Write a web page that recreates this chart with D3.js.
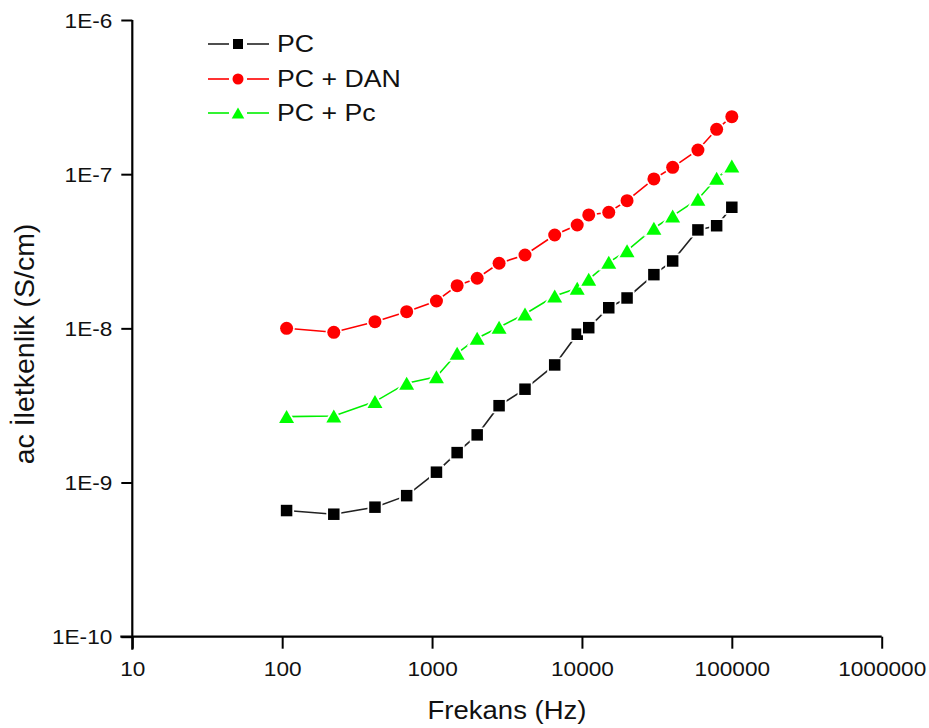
<!DOCTYPE html>
<html>
<head>
<meta charset="utf-8">
<script src="https://cdn.jsdelivr.net/npm/d3@7"></script>
<style>
  html, body { margin: 0; padding: 0; background: #fff; }
  svg { display: block; font-family: "Liberation Sans", Arial, sans-serif; }
</style>
</head>
<body>
<svg id="chart" width="929" height="728"></svg>
<script>
// ---- data ----
const frequencies = [107, 221, 416, 677, 1070, 1470, 2000, 2800, 4170, 6580, 9300, 11100, 15100, 20000, 30200, 40300, 59400, 79200, 100000];
const pcValues    = [6.58e-10, 6.23e-10, 6.92e-10, 8.22e-10, 1.167e-9, 1.563e-9, 2.037e-9, 3.15e-9, 4.03e-9, 5.79e-9, 9.16e-9, 1.01e-8, 1.36e-8, 1.574e-8, 2.23e-8, 2.735e-8, 4.35e-8, 4.63e-8, 6.10e-8];
const pcDanValues = [1.001e-8, 9.43e-9, 1.105e-8, 1.283e-8, 1.505e-8, 1.891e-8, 2.113e-8, 2.643e-8, 2.99e-8, 4.03e-8, 4.68e-8, 5.44e-8, 5.66e-8, 6.73e-8, 9.31e-8, 1.108e-7, 1.435e-7, 1.955e-7, 2.36e-7];
const pcPcValues  = [2.676e-9, 2.70e-9, 3.35e-9, 4.41e-9, 4.86e-9, 6.89e-9, 8.63e-9, 1.016e-8, 1.24e-8, 1.622e-8, 1.82e-8, 2.08e-8, 2.68e-8, 3.19e-8, 4.46e-8, 5.36e-8, 6.88e-8, 9.40e-8, 1.13e-7];
const seriesNames = ["PC", "PC + DAN", "PC + Pc"];
const xTickValues = [10, 100, 1000, 10000, 100000, 1000000];
const yTickValues = [1e-10, 1e-9, 1e-8, 1e-7, 1e-6];
const yTickLabels = ["1E-10", "1E-9", "1E-8", "1E-7", "1E-6"];
const xTitle = "Frekans (Hz)";
const yTitle = "ac İletkenlik (S/cm)";

// ---- layout ----
const SX = 1.16; // horizontal text stretch seen in the reference
const svg = d3.select("#chart");
const x = d3.scaleLog().domain([10, 1e6]).range([132.3, 881.7]);
const y = d3.scaleLog().domain([1e-10, 1e-6]).range([636.7, 20]);

const series = [
  { name: seriesNames[0], values: pcValues,    color: "#000000", line: "#222222", shape: "square" },
  { name: seriesNames[1], values: pcDanValues, color: "#ff0000", line: "#ff0000", shape: "circle" },
  { name: seriesNames[2], values: pcPcValues,  color: "#00ff00", line: "#00f000", shape: "triangle" }
];

function markerPath(shape, s) {
  if (shape === "square") return d3.symbol(d3.symbolSquare, s * s)();
  if (shape === "circle") return d3.symbol(d3.symbolCircle, Math.PI * (s / 2) * (s / 2))();
  // triangle, bbox-centred
  const w = s * 1.15, h = s;
  return `M0,${-h / 2}L${w / 2},${h / 2}L${-w / 2},${h / 2}Z`;
}
const markerSize = { square: 11.5, circle: 13, triangle: 13 };
const legendMarkerSize = { square: 10, circle: 11, triangle: 11 };

// ---- axes ----
const xAxis = d3.axisBottom(x).tickValues(xTickValues).tickFormat(d3.format("d")).tickSize(12).tickPadding(0);
const gx = svg.append("g").attr("transform", `translate(0,${y(1e-10)})`).call(xAxis);
gx.select(".domain").attr("stroke", "#000").attr("stroke-width", 2.2).attr("d", `M${x(10) - 12},0H${x(1e6)}`);
gx.selectAll(".tick line").attr("stroke", "#000").attr("stroke-width", 2);
gx.selectAll(".tick text")
  .attr("y", 25).attr("dy", "0.71em")
  .attr("transform", `scale(${SX},1)`)
  .attr("font-size", 19.5).attr("fill", "#111")
  .attr("font-family", "Liberation Sans, Arial, sans-serif");

const yAxis = d3.axisLeft(y).tickValues(yTickValues).tickFormat((d, i) => yTickLabels[i]).tickSize(11).tickPadding(0);
const gy = svg.append("g").attr("transform", `translate(${x(10)},0)`).call(yAxis);
gy.select(".domain").attr("stroke", "#000").attr("stroke-width", 2.2).attr("d", `M0,${y(1e-6)}V${y(1e-10) + 13}`);
gy.selectAll(".tick line").attr("stroke", "#000").attr("stroke-width", 2);
gy.selectAll(".tick text")
  .attr("x", -20 / SX).attr("dy", "0.36em")
  .attr("transform", `scale(${SX},1)`)
  .attr("font-size", 19.5).attr("fill", "#111")
  .attr("font-family", "Liberation Sans, Arial, sans-serif");

// ---- titles ----
svg.append("text")
  .attr("transform", `translate(${(x(10) + x(1e6)) / 2},719) scale(1.1,1)`)
  .attr("text-anchor", "middle").attr("font-size", 25).attr("fill", "#111")
  .text(xTitle);
svg.append("text")
  .attr("transform", `translate(34,344) rotate(-90)`)
  .attr("text-anchor", "middle").attr("font-size", 28.5).attr("fill", "#111")
  .text(yTitle);

// ---- series ----
const line = d3.line().x(d => x(d.f)).y(d => y(d.v));
series.forEach(s => {
  const pts = frequencies.map((f, i) => ({ f, v: s.values[i] }));
  const g = svg.append("g");
  g.append("path").datum(pts).attr("d", line)
    .attr("fill", "none").attr("stroke", s.line).attr("stroke-width", 1.6);
  g.selectAll("path.m").data(pts).enter().append("path").attr("class", "m")
    .attr("transform", d => `translate(${x(d.f)},${y(d.v)})`)
    .attr("d", markerPath(s.shape, markerSize[s.shape]))
    .attr("fill", s.color)
    .attr("stroke", "#fff").attr("stroke-width", 3.5)
    .attr("paint-order", "stroke");
});

// ---- legend ----
const legend = svg.append("g");
const rowY = [44, 79, 113];
series.forEach((s, i) => {
  const g = legend.append("g").attr("transform", `translate(0,${rowY[i]})`);
  g.append("line").attr("x1", 208).attr("x2", 229).attr("y1", 0).attr("y2", 0).attr("stroke", s.line).attr("stroke-width", 1.6);
  g.append("line").attr("x1", 247).attr("x2", 269).attr("y1", 0).attr("y2", 0).attr("stroke", s.line).attr("stroke-width", 1.6);
  g.append("path").attr("transform", `translate(238,0)`)
    .attr("d", markerPath(s.shape, legendMarkerSize[s.shape])).attr("fill", s.color);
  g.append("text").attr("transform", `translate(277,0) scale(1.16,1)`)
    .attr("dy", "0.36em").attr("font-size", 23).attr("fill", "#111").text(s.name);
});
</script>
</body>
</html>
